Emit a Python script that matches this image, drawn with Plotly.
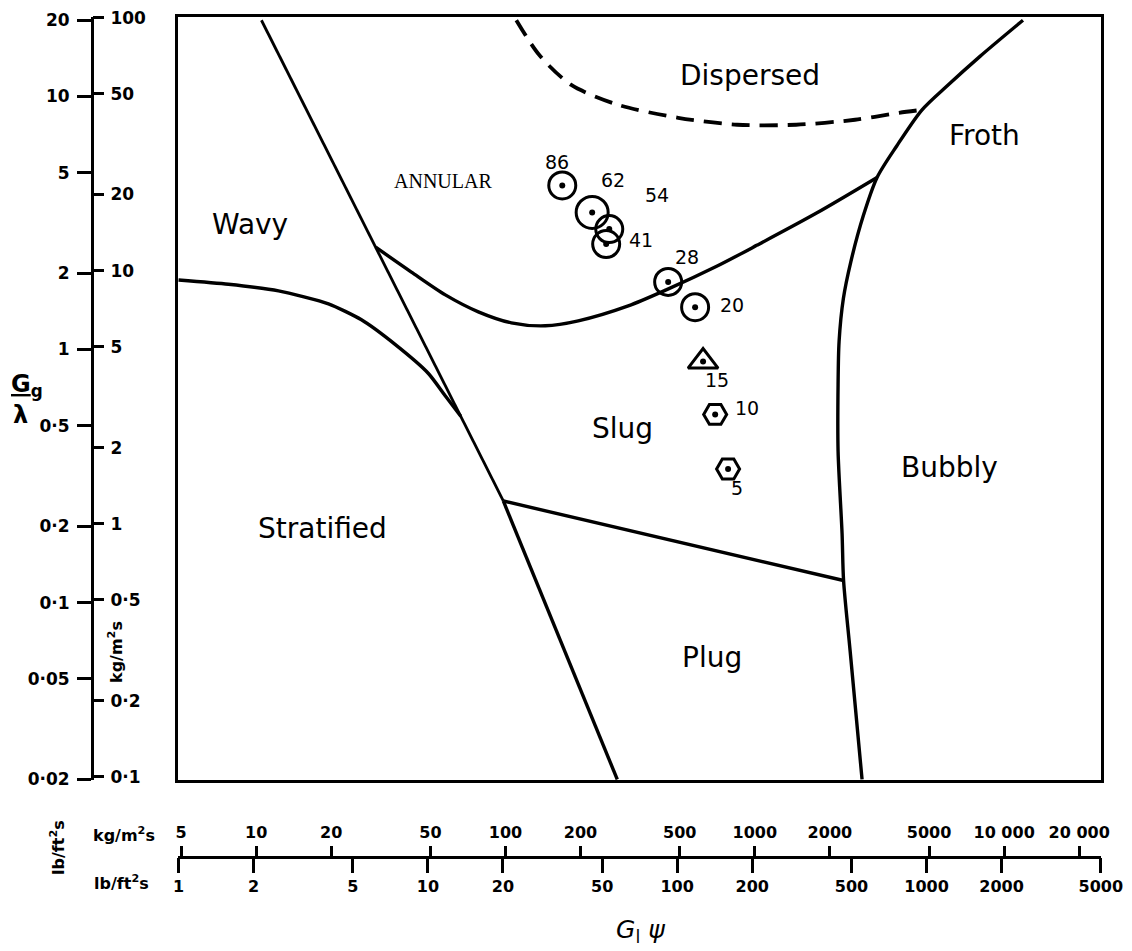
import math
import plotly.graph_objects as go

KG_PER_LB = 4.8824  # 1 lb/ft2 s = 4.8824 kg/m2 s

# ---- boundary curves: x = G_l*psi (lb/ft2 s), y = G_g/lambda (lb/ft2 s) ----
diag_upper_x = [2.15, 20.07]
diag_upper_y = [20.0, 0.252]
diag_lower_x = [20.07, 57.5]
diag_lower_y = [0.252, 0.02]

strat_x = [1.0, 1.586, 2.517, 3.993, 5.414, 7.408, 10.05, 11.80, 13.55]
strat_y = [1.882, 1.810, 1.705, 1.515, 1.310, 1.045, 0.804, 0.652, 0.5445]

wavy_ann_x = [6.175, 8.587, 11.75, 15.94, 21.61, 29.58, 40.11, 63.63, 90.35, 144.7, 209.3, 360.7, 633.4]
wavy_ann_y = [2.537, 2.023, 1.644, 1.409, 1.275, 1.241, 1.298, 1.487, 1.720, 2.137, 2.585, 3.452, 4.783]

froth_x = [2437, 1639, 1205, 959.4, 759.6, 633.4, 558.1, 496.8, 464.0, 446.0, 441.9, 441.9, 458.5, 464.9, 493.6, 551.4]
froth_y = [20.0, 14.40, 10.97, 8.853, 6.373, 4.783, 3.381, 2.215, 1.589, 1.074, 0.7278, 0.3965, 0.1870, 0.1222, 0.0648, 0.02]

plug_x = [20.07, 464.9]
plug_y = [0.252, 0.1222]

disp_x = [22.63, 27.99, 37.60, 58.0, 100.9, 174.0, 299.9, 516.9, 775.9, 959.4]
disp_y = [20.0, 14.57, 11.10, 9.264, 8.234, 7.729, 7.729, 8.088, 8.615, 8.853]

# ---- data points ----
pt_labels = ["86", "62", "54", "41", "28", "20", "15", "10", "5"]
pt_x = [34.6, 45.6, 53.4, 51.9, 92.0, 118, 127, 142, 160]
pt_y = [4.45, 3.48, 2.99, 2.61, 1.85, 1.47, 0.896, 0.554, 0.337]
pt_kind = ["circle", "circle", "circle", "circle", "circle", "circle", "triangle", "hexagon", "hexagon"]

# ---- tick values ----
lb_y_ticks = [20, 10, 5, 2, 1, 0.5, 0.2, 0.1, 0.05, 0.02]
lb_y_text = ["20", "10", "5", "2", "1", "0·5", "0·2", "0·1", "0·05", "0·02"]
kg_y_ticks = [100, 50, 20, 10, 5, 2, 1, 0.5, 0.2, 0.1]
kg_y_text = ["100", "50", "20", "10", "5", "2", "1", "0·5", "0·2", "0·1"]
lb_x_ticks = [1, 2, 5, 10, 20, 50, 100, 200, 500, 1000, 2000, 5000]
lb_x_text = ["1", "2", "5", "10", "20", "50", "100", "200", "500", "1000", "2000", "5000"]
kg_x_ticks = [5, 10, 20, 50, 100, 200, 500, 1000, 2000, 5000, 10000, 20000]
kg_x_text = ["5", "10", "20", "50", "100", "200", "500", "1000", "2000", "5000", "10 000", "20 000"]

W, H = 1132, 951
XR = [math.log10(0.995), math.log10(5010)]
YR = [math.log10(0.0199), math.log10(20.6)]
xdom = [178 / W, 1101 / W]
ydom = [1 - 780 / H, 1 - 17 / H]

fig = go.Figure()

def line(x, y, width=3.4, dash="solid", shape="linear", smoothing=0.8):
    fig.add_trace(go.Scatter(x=x, y=y, mode="lines", hoverinfo="skip",
                             line=dict(color="black", width=width, dash=dash, shape=shape,
                                       smoothing=smoothing)))

line(diag_upper_x, diag_upper_y, width=2.8)
line(diag_lower_x, diag_lower_y, width=3.4)
line(strat_x, strat_y, shape="spline", smoothing=0.6)
line(wavy_ann_x, wavy_ann_y, shape="spline", smoothing=0.8)
line(froth_x, froth_y, shape="spline", smoothing=0.8)
line(plug_x, plug_y)
line(disp_x, disp_y, width=3.8, dash="18px,10px", shape="spline")

sym_map = {"circle": "circle-open", "triangle": "triangle-up-open", "hexagon": "hexagon2-open"}
size_map = {"circle": 27, "triangle": 26, "hexagon": 23}
sizes = [size_map[k] for k in pt_kind]
sizes[1] = 32
fig.add_trace(go.Scatter(x=pt_x, y=pt_y, mode="markers", hoverinfo="skip",
                         marker=dict(symbol=[sym_map[k] for k in pt_kind], size=sizes, opacity=1,
                                     color="#000000", line=dict(color="#000000", width=3))))
fig.add_trace(go.Scatter(x=pt_x, y=pt_y, mode="markers", hoverinfo="skip",
                         marker=dict(symbol="circle", size=6, color="#000000", opacity=1,
                                     line=dict(width=0))))

# dummy traces to activate the scale axes
for xa, ya in [("x2", "y"), ("x3", "y"), ("x", "y2"), ("x", "y3")]:
    fig.add_trace(go.Scatter(x=[None], y=[None], xaxis=xa, yaxis=ya, mode="markers", hoverinfo="skip"))

tickfont = dict(family="DejaVu Sans", size=16, color="black", weight="bold")
tickfont_y = dict(family="DejaVu Sans", size=17, color="black", weight="bold")

fig.update_layout(
    width=W, height=H, margin=dict(l=0, r=0, t=0, b=0), autosize=False,
    paper_bgcolor="white", plot_bgcolor="white", showlegend=False,
    font=dict(family="DejaVu Sans", color="black"),
    xaxis=dict(type="log", range=XR, domain=xdom, showline=True, mirror=True, linewidth=3,
               linecolor="black", showticklabels=False, ticks="", showgrid=False, zeroline=False,
               anchor="y", automargin=False),
    yaxis=dict(type="log", range=YR, domain=ydom, showline=True, mirror=True, linewidth=3,
               linecolor="black", showticklabels=False, ticks="", showgrid=False, zeroline=False,
               anchor="x", automargin=False),
    xaxis2=dict(type="log", range=XR, overlaying="x", anchor="free", position=1 - 857 / H, side="top",
                ticks="outside", ticklen=10, tickwidth=2.5, tickcolor="black",
                tickvals=[v / KG_PER_LB for v in kg_x_ticks], ticktext=kg_x_text,
                showline=True, linewidth=3, linecolor="black", showgrid=False, zeroline=False,
                tickfont=tickfont, automargin=False, ticklabelstandoff=2),
    xaxis3=dict(type="log", range=XR, overlaying="x", anchor="free", position=1 - 857 / H, side="bottom",
                ticks="outside", ticklen=15, tickwidth=2.5, tickcolor="black",
                tickvals=lb_x_ticks, ticktext=lb_x_text,
                showline=False, showgrid=False, zeroline=False,
                tickfont=tickfont, automargin=False, ticklabelstandoff=0),
    yaxis2=dict(type="log", range=YR, overlaying="y", anchor="free", position=92 / W, side="left",
                ticks="outside", ticklen=14, tickwidth=2.5, tickcolor="black",
                tickvals=lb_y_ticks, ticktext=lb_y_text,
                showline=True, linewidth=3, linecolor="black", showgrid=False, zeroline=False,
                tickfont=tickfont_y, automargin=False, ticklabelstandoff=4),
    yaxis3=dict(type="log", range=YR, overlaying="y", anchor="free", position=92 / W, side="right",
                ticks="outside", ticklen=11, tickwidth=2.5, tickcolor="black",
                tickvals=[v / KG_PER_LB for v in kg_y_ticks], ticktext=kg_y_text,
                showline=False, showgrid=False, zeroline=False,
                tickfont=tickfont_y, automargin=False, ticklabelstandoff=3),
)

# region labels (data coordinates)
region_font = dict(family="DejaVu Sans", size=28, color="black")
regions = [
    ("Dispersed", 196, 12.15), ("Froth", 1716, 7.0), ("Wavy", 1.94, 3.13),
    ("Slug", 60.2, 0.488), ("Stratified", 3.78, 0.197), ("Bubbly", 1242, 0.343),
    ("Plug", 138, 0.0609),
]
for t, xv, yv in regions:
    fig.add_annotation(x=math.log10(xv), y=math.log10(yv), xref="x", yref="y", text=t,
                       showarrow=False, font=region_font, xanchor="center", yanchor="middle")
fig.add_annotation(x=math.log10(11.5), y=math.log10(4.65), xref="x", yref="y", text="ANNULAR",
                   showarrow=False, xanchor="center", yanchor="middle",
                   font=dict(family="Liberation Serif", size=20, color="black"))

# point labels
offsets = {"86": (-5, 23), "62": (21, 32), "54": (48, 34), "41": (35, 4), "28": (19, 25),
           "20": (37, 2), "15": (14, -18), "10": (32, 6), "5": (9, -19)}
for lab, xv, yv in zip(pt_labels, pt_x, pt_y):
    dx, dy = offsets[lab]
    fig.add_annotation(x=math.log10(xv), y=math.log10(yv), xref="x", yref="y", text=lab,
                       showarrow=False, xshift=dx, yshift=dy, xanchor="center", yanchor="middle",
                       font=dict(family="DejaVu Sans", size=19, color="black"))

# axis titles / unit labels (paper coordinates)
def ptext(px, py, text, size=17, angle=0, family="DejaVu Sans", weight="bold"):
    fig.add_annotation(x=px / W, y=1 - py / H, xref="paper", yref="paper", text=text,
                       showarrow=False, textangle=angle, xanchor="center", yanchor="middle",
                       font=dict(family=family, size=size, color="black", weight=weight))

ptext(124, 834, "kg/m<sup>2</sup>s", size=16)
ptext(121, 882, "lb/ft<sup>2</sup>s", size=16)
ptext(57, 848, "lb/ft<sup>2</sup>s", size=16, angle=-90)
ptext(115, 652, "kg/m<sup>2</sup>s", size=16, angle=-90)
ptext(27, 386, "<u>G</u><sub>g</sub>", size=24)
ptext(20, 415, "λ", size=24)
ptext(640, 931, "<i>G</i><sub>l</sub> <i>ψ</i>", size=25, weight="normal")

fig.write_html("out.html", config={"displayModeBar": False},
               post_script="document.body.style.margin='0';document.body.style.overflow='hidden';")
